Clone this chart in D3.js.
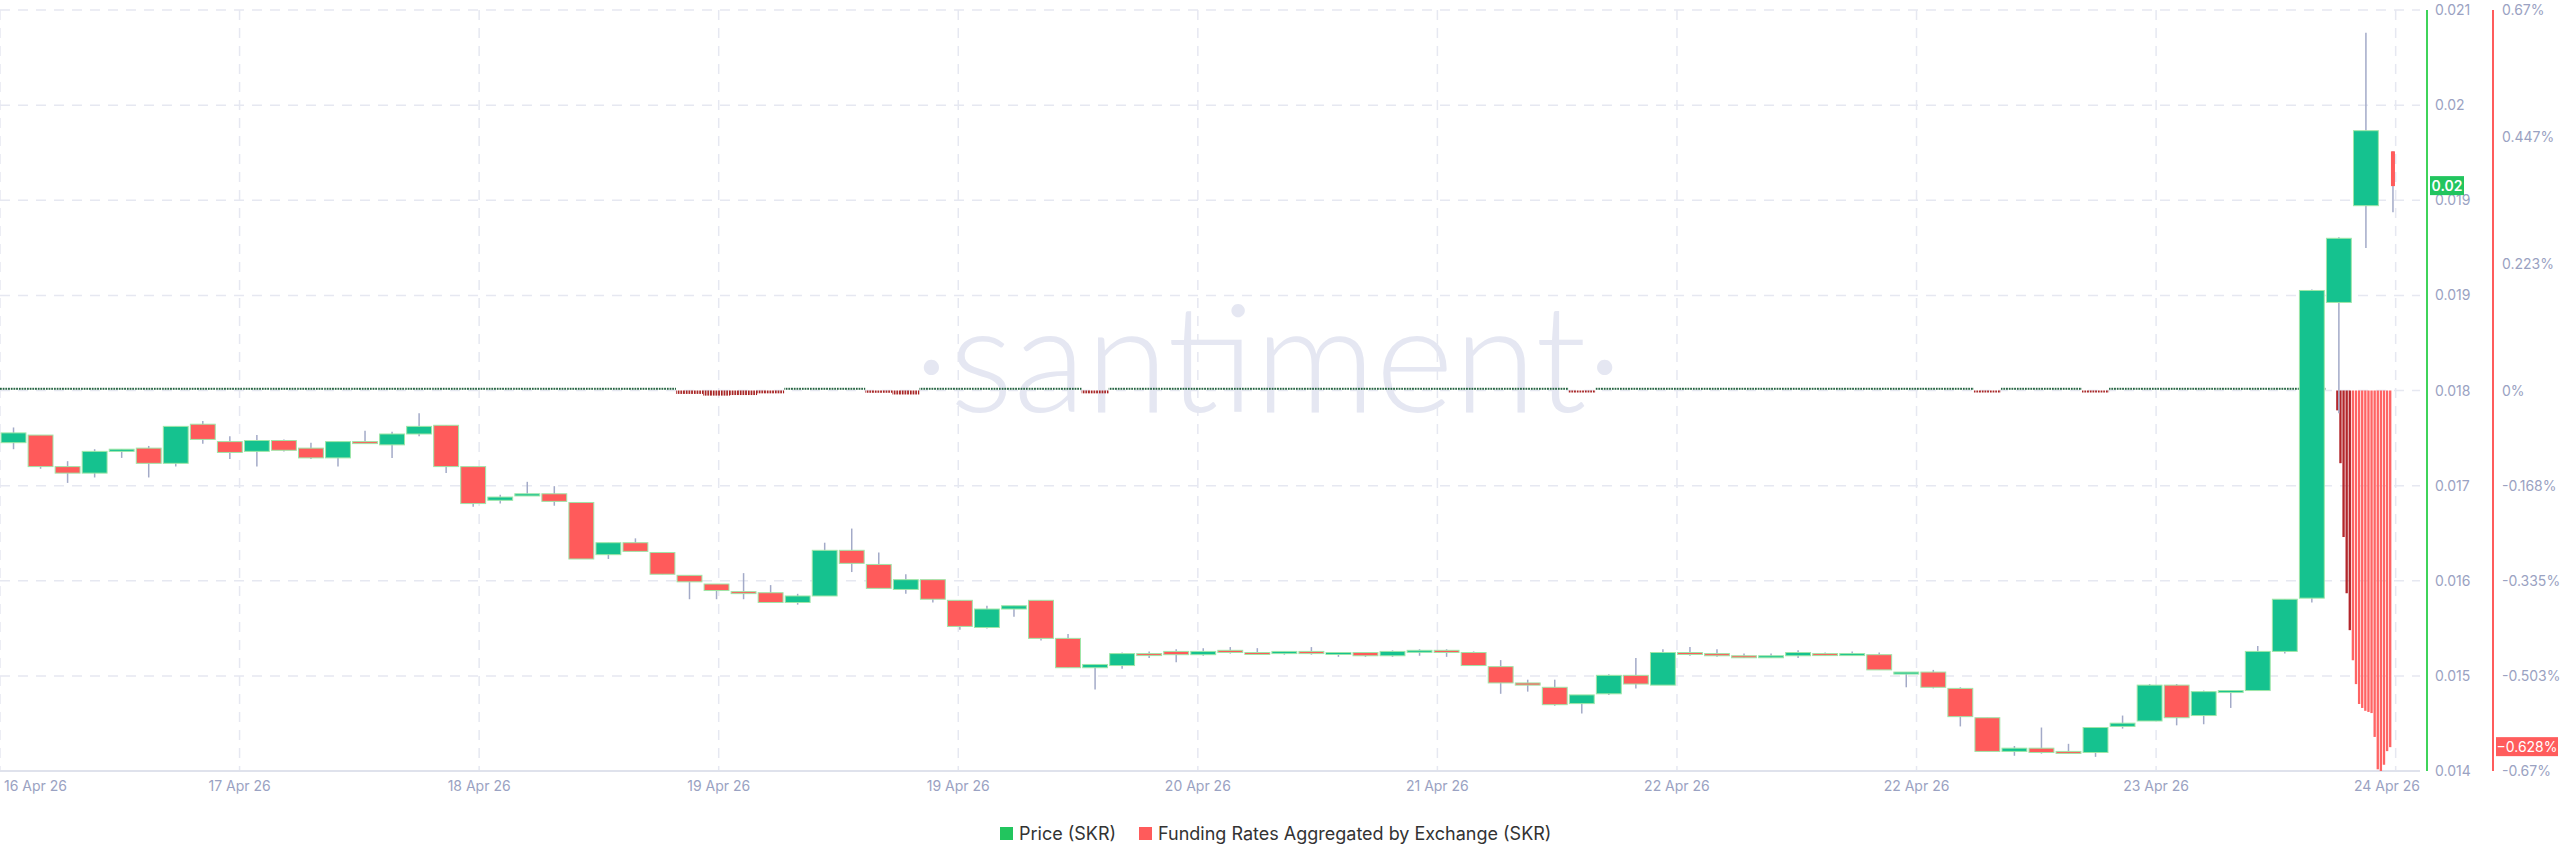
<!DOCTYPE html>
<html lang="en">
<head>
<meta charset="UTF-8">
<title>SKR price and funding rates</title>
<style>
  body { margin: 0; background: #fff; }
  svg { display: block; font-family: Inter, "Noto Sans", sans-serif; }
</style>
</head>
<body>
<svg id="chart" width="2560" height="867"></svg>
<script src="https://d3js.org/d3.v7.min.js"></script>
<script>
// candle prices in units of 1e-5
const priceOpen = [1702,1709,1680,1674,1694,1697,1683,1719,1703,1694,1704,1697,1688,1703,1700,1710,1718,1680,1649,1653,1655,1647,1599,1610,1601,1580,1572,1565,1564,1555,1561,1603,1590,1567,1576,1557,1532,1549,1557,1522,1495,1497,1508,1510,1507,1511,1509,1508,1510,1508,1509,1506,1510,1511,1509,1496,1481,1477,1462,1471,1488,1479,1509,1508,1506,1505,1506,1508,1507,1507,1490,1491,1476,1449,1418,1421,1418,1417,1441,1446,1479,1451,1473,1474,1510,1559,1831,1920,1970].map(v => v / 1e5);
const priceHigh = [1716,1709,1685,1696,1696,1699,1717,1722,1708,1709,1705,1702,1703,1713,1712,1729,1718,1680,1654,1666,1662,1647,1610,1614,1601,1580,1572,1582,1571,1563,1610,1623,1601,1581,1576,1557,1552,1552,1557,1526,1498,1509,1510,1512,1513,1514,1513,1510,1514,1509,1509,1511,1512,1512,1510,1502,1484,1484,1470,1489,1504,1512,1514,1512,1508,1508,1511,1509,1510,1509,1491,1493,1477,1449,1423,1440,1425,1440,1451,1480,1480,1474,1474,1515,1558,1843,1891,2079,1970].map(v => v / 1e5);
const priceLow = [1696,1678,1665,1670,1688,1670,1680,1701,1687,1680,1694,1687,1680,1702,1688,1708,1674,1643,1646,1653,1644,1595,1595,1602,1581,1558,1558,1558,1555,1553,1561,1583,1568,1563,1555,1530,1531,1542,1520,1495,1475,1494,1504,1500,1506,1508,1507,1507,1507,1505,1505,1505,1506,1505,1497,1471,1473,1460,1453,1470,1476,1479,1506,1505,1504,1504,1504,1506,1506,1493,1477,1476,1441,1418,1414,1416,1416,1413,1439,1446,1442,1443,1458,1474,1508,1555,1729,1881,1914].map(v => v / 1e5);
const priceClose = [1711,1680,1674,1694,1696,1683,1717,1705,1693,1704,1695,1688,1703,1702,1710,1717,1680,1646,1652,1655,1648,1595,1610,1602,1581,1574,1566,1564,1555,1561,1603,1591,1568,1576,1558,1533,1549,1552,1522,1495,1498,1508,1507,1507,1510,1509,1508,1510,1508,1509,1506,1510,1511,1509,1497,1481,1479,1461,1470,1488,1480,1509,1508,1506,1505,1506,1509,1507,1508,1493,1491,1477,1450,1418,1421,1417,1417,1440,1444,1479,1449,1473,1474,1510,1558,1842,1890,1989,1938].map(v => v / 1e5);

// funding rate (%) per candle period, then finer samples for the final hours
const fundingRates = [0.003,0.003,0.003,0.003,0.003,0.003,0.003,0.003,0.003,0.003,0.003,0.003,0.003,0.003,0.003,0.003,0.003,0.003,0.003,0.003,0.003,0.003,0.003,0.003,0.003,-0.006,-0.009,-0.008,-0.005,0.003,0.003,0.003,-0.004,-0.007,0.003,0.003,0.003,0.003,0.003,0.003,-0.005,0.003,0.003,0.003,0.003,0.003,0.003,0.003,0.003,0.003,0.003,0.003,0.003,0.003,0.003,0.003,0.003,0.003,-0.003,0.003,0.003,0.003,0.003,0.003,0.003,0.003,0.003,0.003,0.003,0.003,0.003,0.003,0.003,-0.003,0.003,0.003,0.003,-0.003,0.003,0.003,0.003,0.003,0.003,0.003,0.003,0.003];
const fundingTail = [-0.035,-0.128,-0.258,-0.357,-0.422,-0.475,-0.517,-0.552,-0.559,-0.564,-0.566,-0.568,-0.610,-0.667,-0.670,-0.659,-0.635,-0.628];
const fundingTailStart = 86.4;   // in candle periods
const fundingTailStep = 0.115;

const dateTicks = [0, 8.86, 17.72, 26.58, 35.44, 44.3, 53.16, 62.02, 70.88, 79.74, 88.6];
const dateLabels = ['16 Apr 26','17 Apr 26','18 Apr 26','19 Apr 26','19 Apr 26','20 Apr 26','21 Apr 26','22 Apr 26','22 Apr 26','23 Apr 26','24 Apr 26'];
const priceTicks = [0.014, 0.014875, 0.01575, 0.016625, 0.0175, 0.018375, 0.01925, 0.020125, 0.021];
const priceLabels = ['0.014','0.015','0.016','0.017','0.018','0.019','0.019','0.02','0.021'];
const fundingTicks = [-0.67, -0.503, -0.335, -0.168, 0, 0.223, 0.447, 0.67];
const fundingLabels = ['-0.67%','-0.503%','-0.335%','-0.168%','0%','0.223%','0.447%','0.67%'];

const GREEN = '#15c28f', RED = '#ff5b5b', WICK = '#a3aac8', GRID = '#e6e8f1', TXT = '#9aa2c2';
const plotL = 0, plotR = 2420, plotT = 10, plotB = 771;

const svg = d3.select('#chart');
const candles = priceOpen.map((o, i) => ({ i, o, h: priceHigh[i], l: priceLow[i], c: priceClose[i] }));

const x = d3.scaleLinear().domain([0, 89.5]).range([plotL, plotR]);
const y = d3.scaleLinear().domain([0.014, 0.021]).range([plotB, plotT]);
const yF = d3.scaleLinear().domain([-0.67, 0.67]).range([plotB, plotT]);
const step = x(1) - x(0);

// dotted pattern for funding bars
const defs = svg.append('defs');
const pat = (id, color) => defs.append('pattern').attr('id', id).attr('patternUnits', 'userSpaceOnUse')
  .attr('width', 2.7).attr('height', 4)
  .append('rect').attr('width', 1.7).attr('height', 4).attr('fill', color);
pat('dotG', '#1d5e3a');
pat('dotR', '#a51d1d');

// grid
const grid = svg.append('g');
grid.selectAll('.hg').data(priceTicks.slice(1)).join('line')
  .attr('x1', plotL).attr('x2', plotR).attr('y1', d => y(d)).attr('y2', d => y(d))
  .attr('stroke', GRID).attr('stroke-width', 1.5).attr('stroke-dasharray', '10,8');
grid.selectAll('.vg').data(dateTicks).join('line')
  .attr('x1', d => x(d)).attr('x2', d => x(d)).attr('y1', plotT).attr('y2', plotB)
  .attr('stroke', GRID).attr('stroke-width', 1.5).attr('stroke-dasharray', '10,8');
svg.append('line').attr('x1', plotL).attr('x2', plotR).attr('y1', plotB).attr('y2', plotB)
  .attr('stroke', '#dfe2ec').attr('stroke-width', 2);

// watermark
svg.append('text').attr('x', 1268).attr('y', 412).attr('text-anchor', 'middle')
  .attr('font-family', 'Lato, "Open Sans", sans-serif').attr('font-weight', 300)
  .attr('font-size', 150).attr('fill', '#e5e7f2').text('·santiment·');

// funding bars
const fb = svg.append('g');
fb.selectAll('rect').data(fundingRates).join('rect')
  .attr('x', (d, i) => x(i))
  .attr('width', step)
  .attr('y', d => d >= 0 ? yF(d) - 1 : yF(0))
  .attr('height', d => Math.max(2, Math.abs(yF(d) - yF(0))))
  .attr('fill', d => d >= 0 ? 'url(#dotG)' : 'url(#dotR)');
fb.selectAll('.tail').data(fundingTail).join('rect')
  .attr('x', (d, i) => x(fundingTailStart + i * fundingTailStep))
  .attr('width', step * fundingTailStep * 0.75)
  .attr('y', yF(0))
  .attr('height', d => yF(d) - yF(0))
  .attr('fill', (d, i) => i < 5 ? '#b3262b' : '#ff6464');

// candles
const cg = svg.append('g');
const last = candles.length - 1;
cg.selectAll('.wick').data(candles).join('line')
  .attr('x1', d => x(d.i + 0.5)).attr('x2', d => x(d.i + 0.5))
  .attr('y1', d => y(d.h)).attr('y2', d => y(d.l))
  .attr('stroke', WICK).attr('stroke-width', 1.5);
cg.selectAll('.body').data(candles).join('rect')
  .attr('x', d => d.i === last ? x(d.i + 0.5) - 2 : x(d.i + 0.5) - step * 0.46)
  .attr('width', d => d.i === last ? 4 : step * 0.92)
  .attr('y', d => y(Math.max(d.o, d.c)))
  .attr('height', d => Math.max(2, Math.abs(y(d.o) - y(d.c))))
  .attr('fill', d => d.c >= d.o ? GREEN : RED)
  .attr('stroke', d => d.i === last ? 'none' : '#9fe6a8').attr('stroke-width', 1);

// x axis labels
svg.append('g').selectAll('text').data(dateTicks).join('text')
  .attr('x', (d, i) => i === 0 ? x(d) + 4 : i === dateTicks.length - 1 ? plotR : x(d))
  .attr('y', 791)
  .attr('text-anchor', (d, i) => i === 0 ? 'start' : i === dateTicks.length - 1 ? 'end' : 'middle')
  .attr('font-size', 14).attr('fill', TXT)
  .text((d, i) => dateLabels[i]);

// price axis
svg.append('line').attr('x1', 2427).attr('x2', 2427).attr('y1', plotT).attr('y2', plotB)
  .attr('stroke', '#3fd45a').attr('stroke-width', 2);
svg.append('g').selectAll('text').data(priceTicks).join('text')
  .attr('x', 2435).attr('y', d => y(d) + 5)
  .attr('font-size', 14).attr('fill', TXT)
  .text((d, i) => priceLabels[i]);
const lastClose = priceClose[last];
svg.append('rect').attr('x', 2430).attr('y', y(lastClose) - 10).attr('width', 34).attr('height', 19).attr('fill', '#22c55e');
svg.append('text').attr('x', 2447).attr('y', y(lastClose) + 5).attr('text-anchor', 'middle')
  .attr('font-size', 14).attr('font-weight', 600).attr('fill', '#fff').text('0.02');

// funding axis
svg.append('line').attr('x1', 2493).attr('x2', 2493).attr('y1', plotT).attr('y2', plotB)
  .attr('stroke', '#ff5c5c').attr('stroke-width', 2);
svg.append('g').selectAll('text').data(fundingTicks).join('text')
  .attr('x', 2502).attr('y', d => yF(d) + 5)
  .attr('font-size', 14).attr('fill', TXT)
  .text((d, i) => fundingLabels[i]);
const lastF = fundingTail[fundingTail.length - 1];
svg.append('rect').attr('x', 2496).attr('y', yF(lastF) - 10).attr('width', 62).attr('height', 19).attr('fill', '#ff5c5c');
svg.append('text').attr('x', 2527).attr('y', yF(lastF) + 5).attr('text-anchor', 'middle')
  .attr('font-size', 14).attr('fill', '#fff').text(d3.format('.3f')(lastF) + '%');

// legend
const legend = svg.append('g').attr('font-size', 18).attr('fill', '#333');
const items = [{ label: 'Price (SKR)', color: '#22c55e', x: 1000 }, { label: 'Funding Rates Aggregated by Exchange (SKR)', color: RED, x: 1139 }];
items.forEach(it => {
  legend.append('rect').attr('x', it.x).attr('y', 827).attr('width', 13).attr('height', 13).attr('fill', it.color);
  legend.append('text').attr('x', it.x + 19).attr('y', 840).text(it.label);
});
</script>
</body>
</html>
